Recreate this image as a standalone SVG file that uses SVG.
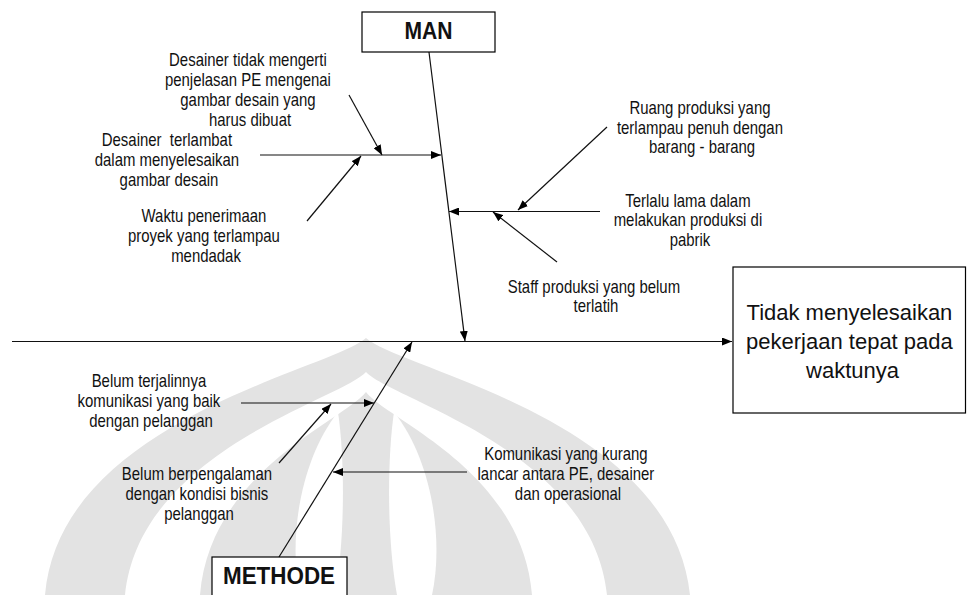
<svg xmlns="http://www.w3.org/2000/svg" width="967" height="595" viewBox="0 0 967 595">
  <style>
    .wm { fill: #e3e3e3; }
    .wmg { fill: #ffffff; }
    .box { fill: #ffffff; stroke: #000; stroke-width: 1.2; }
    .ln { fill: none; stroke: #111; stroke-width: 1.2; }
    .ah { marker-end: url(#ah); }
    .t { font-family: "Liberation Sans", Arial, sans-serif; font-size: 18px; fill: #111; text-anchor: middle; }
    .big { font-family: "Liberation Sans", Arial, sans-serif; font-size: 22px; fill: #111; text-anchor: middle; }
    .hd { font-family: "Liberation Sans", Arial, sans-serif; font-size: 24px; font-weight: bold; fill: #111; text-anchor: middle; }
  </style>
  <defs>
    <marker id="ah" viewBox="0 0 10 8" refX="10" refY="4" markerWidth="10" markerHeight="8" markerUnits="userSpaceOnUse" orient="auto">
      <path d="M0,0 L10,4 L0,8 Z" fill="#000"/>
    </marker>
  </defs>

  <rect width="967" height="595" fill="#ffffff"/>

  <!-- faint background emblem -->
  <g id="emblem">
    <path class="wm" d="M366,338 C330,370 60,420 45,595 H690 C672,420 402,370 366,338 Z"/>
    <path class="wmg" d="M366,372 C340,400 140,450 125,595 H607 C592,450 392,400 366,372 Z"/>
    <path class="wm" d="M366,392 C345,420 210,470 200,595 H532 C522,470 387,420 366,392 Z"/>
    <path class="wmg" d="M338,412 C300,460 288,540 300,595 H335 C345,540 345,460 338,412 Z"/>
    <path class="wmg" d="M394,412 C432,460 444,540 432,595 H397 C387,540 387,460 394,412 Z"/>
  </g>

  <!-- connectors -->
  <g id="connectors">
    <path class="ln ah" d="M12,341.5 H732"/>
    <path class="ln ah" d="M429,52 L465,341"/>
    <path class="ln ah" d="M279,557 L412,342"/>
    <path class="ln ah" d="M260,155 H441"/>
    <path class="ln ah" d="M349,95 L382,155"/>
    <path class="ln ah" d="M307,221 L361,156"/>
    <path class="ln ah" d="M600,211.5 H449"/>
    <path class="ln ah" d="M607,127 L518,210"/>
    <path class="ln ah" d="M557,262 L493,212"/>
    <path class="ln ah" d="M241,403 H374"/>
    <path class="ln ah" d="M279,463 L331,404"/>
    <path class="ln ah" d="M467,472 H333"/>
  </g>

  <!-- category boxes -->
  <g id="man">
    <rect class="box" x="362" y="12" width="133" height="40"/>
    <text class="hd" x="428.5" y="38.5" font-size="23" textLength="48" lengthAdjust="spacingAndGlyphs">MAN</text>
  </g>
  <g id="methode">
    <rect class="box" x="212" y="557" width="135" height="50"/>
    <text class="hd" x="279" y="583.5" textLength="112" lengthAdjust="spacingAndGlyphs">METHODE</text>
  </g>

  <!-- effect -->
  <g id="effect">
    <rect class="box" x="733" y="267" width="232.5" height="146" stroke="#333"/>
    <text class="big" x="852.5">
      <tspan x="852.5" y="319.5">Tidak menyelesaikan</tspan>
      <tspan x="852.5" y="348.5">pekerjaan tepat pada</tspan>
      <tspan x="852.5" y="377.5">waktunya</tspan>
    </text>
  </g>

  <!-- causes -->
  <g id="cause-desainer-pe">
    <text class="t" transform="translate(250 0) scale(0.83 1)">
      <tspan x="0" y="66">Desainer tidak mengerti</tspan>
      <tspan x="0" y="86">penjelasan PE mengenai</tspan>
      <tspan x="0" y="106">gambar desain yang</tspan>
      <tspan x="0" y="126">harus dibuat</tspan>
    </text>
  </g>
  <g id="cause-desainer-terlambat">
    <text class="t" transform="translate(169 0) scale(0.83 1)">
      <tspan x="0" y="146">Desainer&#160; terlambat</tspan>
      <tspan x="0" y="166">dalam menyelesaikan</tspan>
      <tspan x="0" y="186">gambar desain</tspan>
    </text>
  </g>
  <g id="cause-waktu">
    <text class="t" transform="translate(206 0) scale(0.83 1)">
      <tspan x="0" y="222">Waktu penerimaan</tspan>
      <tspan x="0" y="242">proyek yang terlampau</tspan>
      <tspan x="0" y="262">mendadak</tspan>
    </text>
  </g>
  <g id="cause-ruang">
    <text class="t" transform="translate(702 0) scale(0.83 1)">
      <tspan x="0" y="114">Ruang produksi yang</tspan>
      <tspan x="0" y="134">terlampau penuh dengan</tspan>
      <tspan x="0" y="153.5">barang - barang</tspan>
    </text>
  </g>
  <g id="cause-produksi">
    <text class="t" transform="translate(690 0) scale(0.83 1)">
      <tspan x="0" y="207">Terlalu lama dalam</tspan>
      <tspan x="0" y="226.5">melakukan produksi di</tspan>
      <tspan x="0" y="246">pabrik</tspan>
    </text>
  </g>
  <g id="cause-staff">
    <text class="t" transform="translate(596 0) scale(0.83 1)">
      <tspan x="0" y="293">Staff produksi yang belum</tspan>
      <tspan x="0" y="312">terlatih</tspan>
    </text>
  </g>
  <g id="cause-komunikasi-pelanggan">
    <text class="t" transform="translate(151 0) scale(0.83 1)">
      <tspan x="0" y="387">Belum terjalinnya</tspan>
      <tspan x="0" y="407">komunikasi yang baik</tspan>
      <tspan x="0" y="427">dengan pelanggan</tspan>
    </text>
  </g>
  <g id="cause-pengalaman">
    <text class="t" transform="translate(199 0) scale(0.83 1)">
      <tspan x="0" y="480">Belum berpengalaman</tspan>
      <tspan x="0" y="500">dengan kondisi bisnis</tspan>
      <tspan x="0" y="520">pelanggan</tspan>
    </text>
  </g>
  <g id="cause-komunikasi-internal">
    <text class="t" transform="translate(568 0) scale(0.83 1)">
      <tspan x="0" y="460">Komunikasi yang kurang</tspan>
      <tspan x="0" y="480">lancar antara PE, desainer</tspan>
      <tspan x="0" y="500">dan operasional</tspan>
    </text>
  </g>
</svg>
